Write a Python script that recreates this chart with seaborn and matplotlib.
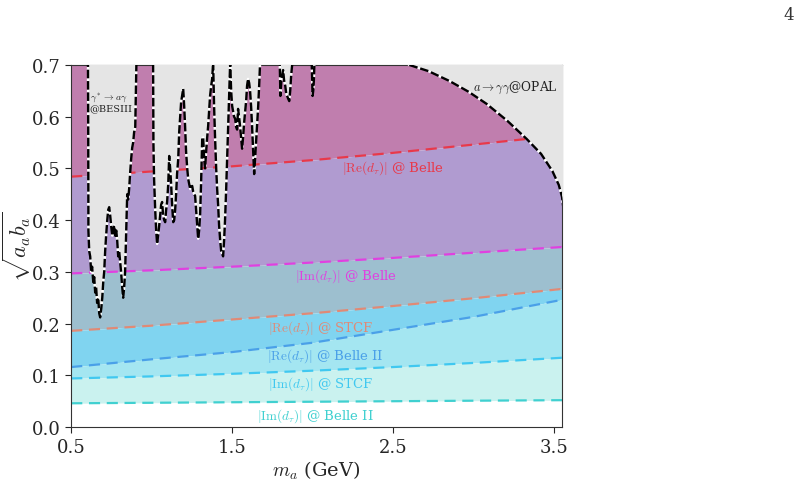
import numpy as np
import pandas as pd
import seaborn as sns
import matplotlib.pyplot as plt

sns.set_style("ticks")
plt.rcParams["font.family"] = ["DejaVu Serif"]
plt.rcParams["mathtext.fontset"] = "cm"

# projected sensitivities, sampled in m_a
m_grid = [0.5, 1.0, 1.5, 2.0, 2.5, 3.0, 3.55]
re_belle = [0.484, 0.494, 0.504, 0.516, 0.530, 0.546, 0.564]
im_belle = [0.297, 0.303, 0.310, 0.318, 0.327, 0.337, 0.348]
re_stcf = [0.186, 0.196, 0.208, 0.220, 0.234, 0.249, 0.267]
re_belle2 = [0.116, 0.131, 0.145, 0.163, 0.188, 0.213, 0.246]
im_stcf = [0.094, 0.098, 0.103, 0.109, 0.116, 0.124, 0.134]
im_belle2 = [0.046, 0.047, 0.048, 0.049, 0.050, 0.051, 0.052]

# BESIII exclusion (gamma* -> a gamma)
bes_x = [0.59, 0.604, 0.606, 0.607, 0.612, 0.618, 0.624, 0.630, 0.637, 0.643, 0.649,
         0.655, 0.661, 0.668, 0.674, 0.680, 0.687, 0.693, 0.699, 0.705, 0.711, 0.717,
         0.724, 0.730, 0.736, 0.742, 0.748, 0.755, 0.761, 0.767, 0.773, 0.780, 0.786,
         0.792, 0.798, 0.804, 0.810, 0.817, 0.823, 0.829, 0.835, 0.842, 0.848, 0.854,
         0.860, 0.866, 0.873, 0.879, 0.885, 0.891, 0.898, 0.902, 0.905, 0.908,
         1.006, 1.009, 1.011, 1.015, 1.022, 1.028, 1.034, 1.040, 1.047, 1.053, 1.059,
         1.065, 1.071, 1.078, 1.084, 1.090, 1.096, 1.103, 1.109, 1.115, 1.121, 1.127,
         1.134, 1.140, 1.146, 1.152, 1.158, 1.165, 1.171, 1.177, 1.183, 1.189, 1.196,
         1.202, 1.208, 1.214, 1.221, 1.227, 1.233, 1.240, 1.246, 1.252, 1.258, 1.264,
         1.270, 1.276, 1.283, 1.289, 1.295, 1.301, 1.307, 1.314, 1.320, 1.326, 1.332,
         1.338, 1.345, 1.351, 1.357, 1.363, 1.370, 1.376, 1.382, 1.388, 1.394, 1.401,
         1.407, 1.413, 1.419, 1.426, 1.432, 1.438, 1.444, 1.450, 1.456, 1.463, 1.469,
         1.475, 1.481, 1.488, 1.494, 1.500, 1.506, 1.512, 1.519, 1.525, 1.531, 1.537,
         1.543, 1.550, 1.556, 1.562, 1.568, 1.575, 1.581, 1.587, 1.593, 1.599, 1.606,
         1.612, 1.618, 1.624, 1.631, 1.637, 1.643, 1.649, 1.655, 1.662, 1.668, 1.674,
         1.680, 1.790, 1.796, 1.800, 1.806, 1.811, 1.817, 1.823, 1.830, 1.836, 1.842,
         1.848, 1.855, 1.861, 1.867, 1.873, 1.879, 1.885, 1.990, 1.995, 2.000, 2.004,
         2.008, 2.012, 2.020]
bes_y = [0.80, 0.72, 0.55, 0.38, 0.34, 0.33, 0.30, 0.31, 0.28, 0.29, 0.26,
         0.27, 0.24, 0.25, 0.22, 0.212, 0.23, 0.25, 0.28, 0.30, 0.34, 0.37,
         0.40, 0.42, 0.425, 0.41, 0.39, 0.37, 0.38, 0.39, 0.37, 0.38, 0.36,
         0.33, 0.34, 0.32, 0.30, 0.27, 0.25, 0.27, 0.30, 0.38, 0.45, 0.44,
         0.46, 0.49, 0.52, 0.54, 0.55, 0.57, 0.58, 0.65, 0.70, 0.80,
         0.80, 0.70, 0.55, 0.48, 0.42, 0.38, 0.354, 0.37, 0.39, 0.41, 0.43,
         0.435, 0.41, 0.40, 0.396, 0.42, 0.435, 0.47, 0.524, 0.50, 0.47, 0.43,
         0.396, 0.40, 0.42, 0.45, 0.49, 0.518, 0.57, 0.60, 0.628, 0.64, 0.654,
         0.621, 0.58, 0.532, 0.50, 0.48, 0.47, 0.46, 0.465, 0.466, 0.455, 0.45,
         0.447, 0.42, 0.39, 0.364, 0.38, 0.41, 0.47, 0.557, 0.56, 0.52, 0.50,
         0.53, 0.56, 0.582, 0.61, 0.64, 0.66, 0.673, 0.705, 0.62, 0.56, 0.50,
         0.46, 0.43, 0.39, 0.36, 0.34, 0.335, 0.33, 0.36, 0.40, 0.46, 0.518,
         0.57, 0.63, 0.705, 0.65, 0.621, 0.61, 0.60, 0.596, 0.58, 0.575, 0.615,
         0.60, 0.58, 0.56, 0.538, 0.56, 0.59, 0.609, 0.63, 0.66, 0.673, 0.665,
         0.648, 0.62, 0.582, 0.53, 0.489, 0.52, 0.55, 0.582, 0.62, 0.66, 0.705,
         0.80, 0.80, 0.70, 0.64, 0.67, 0.68, 0.69, 0.67, 0.66, 0.645, 0.64,
         0.635, 0.63, 0.65, 0.68, 0.70, 0.72, 0.80, 0.80, 0.70, 0.64, 0.65,
         0.67, 0.71, 0.80]

# OPAL exclusion (a -> gamma gamma)
opal_x = [2.50, 2.60, 2.72, 2.85, 2.97, 3.08, 3.21, 3.33, 3.42, 3.49, 3.53, 3.55, 3.56]
opal_y = [0.73, 0.700, 0.688, 0.669, 0.648, 0.625, 0.592, 0.557, 0.528, 0.495, 0.468, 0.445, 0.42]

fill_cols = ["#c07eae", "#b09bd0", "#9dbfcf", "#80d4f0", "#a4e6f1", "#caf2ef"]
line_cols = ["#e8394a", "#e040e0", "#e08a76", "#4aa0e8", "#40c8f0", "#40d0d0"]
bounds = [re_belle, im_belle, re_stcf, re_belle2, im_stcf, im_belle2]
grey = "#e5e5e5"

fig, ax = plt.subplots(figsize=(8, 4.81), dpi=100)
fig.subplots_adjust(left=0.089, right=0.7025, bottom=0.110, top=0.863)

# coloured bands
upper = [0.8] * len(m_grid)
for b, fc in zip(bounds, fill_cols):
    ax.fill_between(m_grid, b, upper, color=fc, lw=0, zorder=1)
    upper = b

for b, lc in zip(bounds, line_cols):
    sns.lineplot(x=m_grid, y=b, color=lc, lw=1.6, linestyle=(0, (5, 3)),
                 estimator=None, sort=False, ax=ax, zorder=2)

# exclusion regions
ax.fill_between(bes_x, bes_y, 0.8, color=grey, lw=0, zorder=3)
ax.fill_between(opal_x, opal_y, 0.8, color=grey, lw=0, zorder=3)
for xs, ys in [(bes_x, bes_y), (opal_x, opal_y)]:
    ax.plot(xs, ys, color="black", lw=1.7, linestyle=(0, (3.6, 1.2)),
            gapcolor="white", zorder=4)

lab_size = 9.5
ax.text(2.5, 0.503, r"$|\mathrm{Re}(d_\tau)|$ @ Belle", color=line_cols[0],
        ha="center", va="center", fontsize=lab_size, zorder=5)
ax.text(2.21, 0.294, r"$|\mathrm{Im}(d_\tau)|$ @ Belle", color=line_cols[1],
        ha="center", va="center", fontsize=lab_size, zorder=5)
ax.text(2.05, 0.193, r"$|\mathrm{Re}(d_\tau)|$ @ STCF", color=line_cols[2],
        ha="center", va="center", fontsize=lab_size, zorder=5)
ax.text(2.08, 0.139, r"$|\mathrm{Re}(d_\tau)|$ @ Belle II", color=line_cols[3],
        ha="center", va="center", fontsize=lab_size, zorder=5)
ax.text(2.05, 0.085, r"$|\mathrm{Im}(d_\tau)|$ @ STCF", color=line_cols[4],
        ha="center", va="center", fontsize=lab_size, zorder=5)
ax.text(2.02, 0.023, r"$|\mathrm{Im}(d_\tau)|$ @ Belle II", color=line_cols[5],
        ha="center", va="center", fontsize=lab_size, zorder=5)
ax.text(3.525, 0.658, r"$a\rightarrow\gamma\gamma$@OPAL", color="#222222",
        ha="right", va="center", fontsize=8.8, zorder=5)
ax.text(0.616, 0.652, r"$\gamma^*\rightarrow a\gamma$" + "\n@BESIII", color="#222222",
        ha="left", va="top", fontsize=7.0, linespacing=1.05, zorder=5)

ax.set_xlim(0.5, 3.55)
ax.set_ylim(0.0, 0.7)
ax.set_xticks([0.5, 1.5, 2.5, 3.5])
ax.set_yticks(np.arange(0, 0.71, 0.1))
ax.tick_params(labelsize=13, length=4)
ax.set_xlabel(r"$m_a$ (GeV)", fontsize=14, labelpad=2)
ax.set_ylabel(r"$\sqrt{a_a b_a}$", fontsize=16)
ax.yaxis.set_label_coords(-0.077, 0.5)
for s in ax.spines.values():
    s.set_visible(True)
    s.set_color("#333333")

fig.text(0.979, 0.958, "4", fontsize=12, color="#333333")

fig.savefig("out.png", dpi=100)
